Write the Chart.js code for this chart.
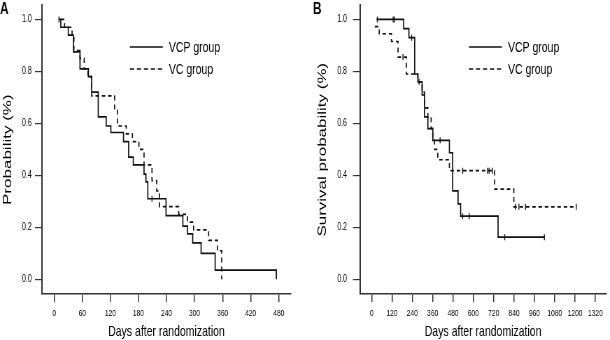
<!DOCTYPE html>
<html>
<head>
<meta charset="utf-8">
<script src="https://cdn.jsdelivr.net/npm/chart.js@4.4.1/dist/chart.umd.min.js"></script>
<style>
    body { margin: 0; background: #fff; }
    #wrap { position: relative; width: 610px; height: 340px; }
    canvas { position: absolute; top: 0; }
</style>
</head>
<body>
<div id="wrap">
    <!-- the original figure is squeezed sideways, so the canvases are drawn wide and shown narrow -->
    <canvas id="chartA" width="429" height="340" style="left:0; width:300px; height:340px"></canvas>
    <canvas id="chartB" width="443" height="340" style="left:300px; width:310px; height:340px"></canvas>
</div>
<script>
// Panel A - progression (days, probability)
const aVcpDays = [10, 14, 30, 41, 55, 73, 80, 94, 111, 121, 148, 159, 169, 192, 196, 200, 239, 275, 285, 296, 314, 344, 475];
const aVcpProb = [1.0, 0.97, 0.94, 0.875, 0.81, 0.78, 0.72, 0.625, 0.59, 0.565, 0.53, 0.47, 0.44, 0.405, 0.375, 0.31, 0.245, 0.205, 0.175, 0.14, 0.10, 0.035, 0.0];
const aVcDays = [14, 22, 38, 42, 55, 64, 72, 80, 129, 135, 154, 167, 181, 192, 209, 219, 225, 266, 285, 298, 330, 349, 358];
const aVcProb = [1.0, 0.97, 0.94, 0.88, 0.85, 0.81, 0.78, 0.706, 0.65, 0.59, 0.56, 0.53, 0.50, 0.44, 0.38, 0.34, 0.28, 0.25, 0.22, 0.19, 0.15, 0.11, 0.0];
const aCensorDays = [10, 209];
const aCensorProb = [1.0, 0.31];

// Panel B - survival
const bVcpDays = [29, 189, 220, 254, 273, 298, 312, 332, 361, 459, 478, 510, 525, 746, 1019];
const bVcpProb = [1.0, 0.965, 0.93, 0.79, 0.76, 0.71, 0.625, 0.58, 0.535, 0.487, 0.34, 0.29, 0.243, 0.162, 0.162];
const bVcDays = [19, 45, 117, 156, 205, 273, 298, 312, 332, 351, 361, 371, 390, 459, 726, 839, 1207];
const bVcProb = [0.972, 0.945, 0.915, 0.855, 0.79, 0.76, 0.72, 0.66, 0.625, 0.58, 0.536, 0.50, 0.46, 0.418, 0.347, 0.279, 0.279];
const bVcpCensorDays = [34, 127, 134, 236, 280, 404, 537, 576, 785, 1019];
const bVcpCensorProb = [1.0, 1.0, 1.0, 0.93, 0.76, 0.535, 0.243, 0.243, 0.162, 0.162];
const bVcCensorDays = [185, 537, 683, 693, 712, 849, 869, 908, 1207];
const bVcCensorProb = [0.855, 0.418, 0.418, 0.418, 0.418, 0.279, 0.279, 0.279, 0.279];

const aXTicks = [0, 60, 120, 180, 240, 300, 360, 420, 480];
const bXTicks = [0, 120, 240, 360, 480, 600, 720, 840, 960, 1080, 1200, 1320];
const yTicks = [0, 0.2, 0.4, 0.6, 0.8, 1.0];

const sans = '"Liberation Sans", Arial, sans-serif';
const K = 1 / 0.7;   // horizontal stretch inside the canvas

function pts(xs, ys) {
    return xs.map((x, i) => ({ x: x, y: ys[i] }));
}

function kmLine(label, xs, ys, dash) {
    return { label: label, data: pts(xs, ys), borderColor: '#111', borderWidth: 1.7,
             borderDash: dash, stepped: true, pointRadius: 0, fill: false };
}

function censorSet(xs, ys) {
    return { label: '', data: pts(xs, ys), showLine: false, pointStyle: 'line', rotation: 90,
             pointRadius: 3, borderColor: '#111', borderWidth: 1.4, backgroundColor: '#111' };
}

// panel letter + legend drawn inside the canvas
function annotate(letter, letterX, legX) {
    return {
        id: 'annot' + letter,
        afterDraw(chart) {
            const c = chart.ctx;
            c.save();
            c.fillStyle = '#000';
            c.font = 'bold 17px ' + sans;
            c.textBaseline = 'top';
            c.fillText(letter, letterX, 1);
            const rows = [['VCP group', [], 47], ['VC group', [6, 4], 69]];
            c.font = '15px ' + sans;
            c.textBaseline = 'middle';
            rows.forEach(r => {
                c.strokeStyle = '#111';
                c.lineWidth = 1.5;
                c.setLineDash(r[1]);
                c.beginPath();
                c.moveTo(legX, r[2]);
                c.lineTo(legX + 33 * K, r[2]);
                c.stroke();
                c.setLineDash([]);
                c.fillText(r[0], legX + 39 * K, r[2] + 1);
            });
            c.restore();
        }
    };
}

function makeChart(id, cfg) {
    return new Chart(document.getElementById(id).getContext('2d'), {
        type: 'line',
        data: { datasets: cfg.datasets },
        options: {
            responsive: false,
            animation: false,
            layout: { padding: { top: 5, right: cfg.padRight * K, left: 0, bottom: 0 } },
            plugins: { legend: { display: false }, tooltip: { enabled: false } },
            scales: {
                x: {
                    type: 'linear',
                    min: cfg.xMin,
                    max: cfg.xMax,
                    afterBuildTicks: s => { s.ticks = cfg.xTicks.map(v => ({ value: v })); },
                    afterFit: s => { s.height = 46; s.paddingLeft = 0; s.paddingRight = 0; },
                    border: { display: true, color: '#333', width: 1.5 },
                    grid: { drawOnChartArea: false, drawTicks: true, tickLength: 8, color: '#333', lineWidth: 1.5 },
                    ticks: { color: '#000', font: { family: sans, size: 9.5 }, padding: 6,
                             maxRotation: 0, autoSkip: false, callback: v => String(v) },
                    title: { display: true, text: 'Days after randomization', color: '#000',
                             font: { family: sans, size: 15, lineHeight: 1.1 }, padding: 0 }
                },
                y: {
                    min: -0.0565,
                    max: 1.054,
                    afterBuildTicks: s => { s.ticks = yTicks.map(v => ({ value: v })); },
                    afterFit: s => { s.width = cfg.yWidth * K; s.paddingTop = 0; s.paddingBottom = 0; },
                    border: { display: true, color: '#333', width: 2 },
                    grid: { drawOnChartArea: false, drawTicks: true, tickLength: 10, color: '#333', lineWidth: 1.2 },
                    ticks: { color: '#000', font: { family: sans, size: 10 }, padding: cfg.yPad * K,
                             callback: v => v.toFixed(1) },
                    title: { display: true, text: cfg.yTitle, color: '#000',
                             font: { family: sans, size: 17, lineHeight: 1 }, padding: { top: cfg.yTitlePad * K, bottom: 0 } }
                }
            }
        },
        plugins: [annotate(cfg.letter, cfg.letterX * K, cfg.legX * K)]
    });
}

const chartA = makeChart('chartA', {
    datasets: [
        kmLine('VCP group', aVcpDays, aVcpProb, []),
        kmLine('VC group', aVcDays, aVcProb, [5, 4]),
        censorSet(aCensorDays, aCensorProb)
    ],
    xMin: -26.3, xMax: 506.3, xTicks: aXTicks,
    padRight: 9, yWidth: 42, yPad: 3.3, yTitle: 'Probability (%)', yTitlePad: 2,
    letter: 'A', letterX: 0, legX: 130
});

const chartB = makeChart('chartB', {
    datasets: [
        kmLine('VCP group', bVcpDays, bVcpProb, []),
        kmLine('VC group', bVcDays, bVcProb, [5, 4]),
        censorSet(bVcpCensorDays, bVcpCensorProb),
        censorSet(bVcCensorDays, bVcCensorProb)
    ],
    xMin: -68.5, xMax: 1384, xTicks: bXTicks,
    padRight: 2, yWidth: 60, yPad: 6, yTitle: 'Survival probability (%)', yTitlePad: 17,
    letter: 'B', letterX: 13, legX: 169
});
</script>
</body>
</html>
